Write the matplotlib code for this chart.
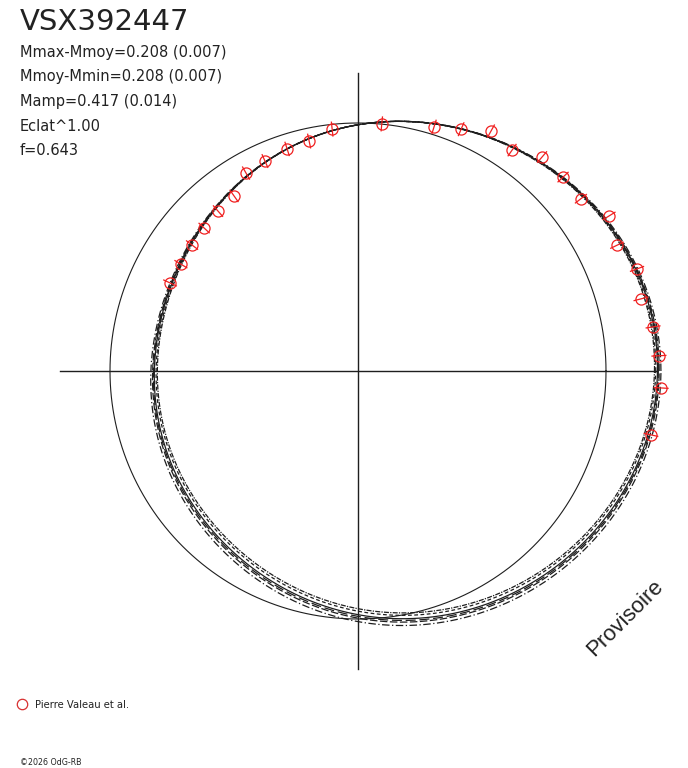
import matplotlib
matplotlib.use('Agg')
import matplotlib.pyplot as plt
import numpy as np

plt.rcParams['font.family'] = ['DejaVu Sans']

star = 'VSX392447'
stats = ['Mmax-Mmoy=0.208 (0.007)',
         'Mmoy-Mmin=0.208 (0.007)',
         'Mamp=0.417 (0.014)',
         'Eclat^1.00',
         'f=0.643']
observer = 'Pierre Valeau et al.'

# observations : angle (deg), rayon, erreur
obs_ang = [154.9, 148.9, 142.8, 137.1, 131.2, 125.3, 119.5, 113.9, 107.7,
           102.0, 96.1, 84.5, 72.7, 66.9, 61.0, 55.1, 49.3, 43.4, 37.7,
           31.7, 25.9, 20.1, 14.3, 8.5, 2.9, -3.2, -12.3]
obs_r = [0.837, 0.834, 0.840, 0.847, 0.857, 0.865, 0.917, 0.926, 0.940,
         0.948, 0.981, 1.001, 1.031, 1.060, 1.106, 1.086, 1.138, 1.138,
         1.136, 1.190, 1.161, 1.198, 1.177, 1.203, 1.215, 1.224, 1.209]
obs_err = [0.028] * len(obs_r)

# courbe ajustee : coefficients de Fourier (cos, sin) par harmonique
fit_cos = [0.998, 0.1886, 0.0133, 0.0046, 0.0030]
fit_sin = [0.0, 0.0034, 0.0026, -0.0018, 0.0029]
# decalages des autres solutions
shift = [0.0, 0.007, -0.007, 0.014, -0.012, 0.0035]
curve_ls = ['-', (0, (6, 2)), (0, (3, 2)), (0, (6, 2, 1, 2)),
            (0, (4, 1, 1, 1)), (0, (8, 3))]

fig = plt.figure(figsize=(6.88, 7.68), dpi=100, facecolor='white')
ax = fig.add_axes([0, 0, 1, 1])
ax.set_xlim(-358 / 248, 330 / 248)
ax.set_ylim(-397 / 248, 371 / 248)
ax.axis('off')

dark = '#1e1e1e'
ax.plot([-1.2, 1.2], [0, 0], color=dark, lw=1.0)
ax.plot([0, 0], [-1.2, 1.2], color=dark, lw=1.0)

t = np.linspace(0, 2 * np.pi, 721)
ax.plot(np.cos(t), np.sin(t), color=dark, lw=0.8)

base = np.zeros_like(t)
for n in range(len(fit_cos)):
    base = base + fit_cos[n] * np.cos(n * t) + fit_sin[n] * np.sin(n * t)
for i in range(len(shift)):
    r = base + shift[i] * (1 - np.sin(t))
    ax.plot(r * np.cos(t), r * np.sin(t), color=dark, lw=0.9,
            ls=curve_ls[i])

a = np.radians(obs_ang)
r = np.array(obs_r)
e = np.array(obs_err)
for k in range(len(r)):
    ax.plot([(r[k] - e[k]) * np.cos(a[k]), (r[k] + e[k]) * np.cos(a[k])],
            [(r[k] - e[k]) * np.sin(a[k]), (r[k] + e[k]) * np.sin(a[k])],
            color='#f02020', lw=0.9)
ax.plot(r * np.cos(a), r * np.sin(a), 'o', ms=8, mfc='none',
        mec='#f02020', mew=0.9)

fig.text(20 / 688, 1 - 30 / 768, star, fontsize=21, color='#222222',
         va='baseline')
for j, s in enumerate(stats):
    fig.text(20 / 688, 1 - (56.5 + 24.7 * j) / 768, s, fontsize=10.5,
             color='#222222', va='baseline')

fig.text(625 / 688, 1 - 618 / 768, 'Provisoire', fontsize=16,
         family='Liberation Sans', rotation=45, ha='center', va='center',
         color='#222222')

ax.plot(22 / 688, 1 - 704 / 768, 'o', ms=7.5, mfc='none', mec='#d83030',
        mew=0.9, transform=fig.transFigure)
fig.text(35 / 688, 1 - 708 / 768, observer, fontsize=7.2, va='baseline',
         color='#222222')
fig.text(20 / 688, 1 - 765 / 768, '\u00a92026 OdG-RB', fontsize=5.7,
         va='baseline', color='#222222')

plt.savefig('out.png', dpi=100, facecolor='white')
